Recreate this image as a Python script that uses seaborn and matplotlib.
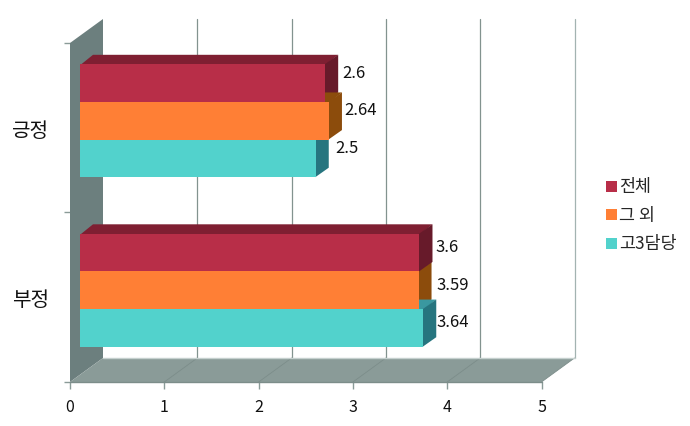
import matplotlib
matplotlib.use("Agg")
import matplotlib.pyplot as plt
from matplotlib.patches import Polygon
from matplotlib.transforms import IdentityTransform, ScaledTranslation
import pandas as pd
import seaborn as sns

# data
categories = ["긍정", "부정"]
groups = ["전체", "그 외", "고3담당"]
all_values = [2.6, 3.6]
other_values = [2.64, 3.59]
senior_values = [2.5, 3.64]
x_ticks = [0, 1, 2, 3, 4, 5]

face_colors = ["#b82e48", "#ff7f35", "#52d2cc"]
top_colors = ["#7f1f32", "#8c4c0c", "#3a98a0"]
side_colors = ["#671a2a", "#8c4c0c", "#26757f"]

WIDTH, HEIGHT = 690, 426
DEPTH_X, DEPTH_Y = 33, 24
BAR_DX, BAR_DY = 10, 7
BAR_DEPTH_X, BAR_DEPTH_Y = 13, 9.5

sns.set_theme(style="white")
plt.rcParams["font.family"] = ["Noto Sans CJK KR", "DejaVu Sans"]

df = pd.DataFrame({
    "category": categories * 3,
    "group": [g for g in groups for _ in categories],
    "value": all_values + other_values + senior_values,
})

fig = plt.figure(figsize=(WIDTH / 100, HEIGHT / 100), dpi=100)


def px_rect(left, top, right, bottom):
    return [left / WIDTH, 1 - bottom / HEIGHT, (right - left) / WIDTH, (bottom - top) / HEIGHT]


# front plane of the 3d box, carries the ticks and walls
ax = fig.add_axes(px_rect(70, 43, 541.5, 382), zorder=1)
ax.set_xlim(0, 5)
ax.set_ylim(1.5, -0.5)
ax.patch.set_visible(False)
for s in ax.spines.values():
    s.set_visible(False)
ax.set_xticks(x_ticks)
ax.set_xticklabels([str(t) for t in x_ticks], fontsize=11.5, color="#111111")
ax.set_yticks([-0.5, 0.5, 1.5])
ax.set_yticklabels([])
ax.set_yticks([0, 1], labels=categories, minor=True)
ax.tick_params(axis="x", which="major", length=5, width=1, color="#8a9b98", pad=7.5, bottom=True)
ax.tick_params(axis="y", which="major", length=4.5, width=1, color="#8a9b98", left=True)
ax.tick_params(axis="y", which="minor", length=0, pad=15, labelsize=14.5, labelcolor="#111111", left=False)
nudge = ScaledTranslation(0, -0.6 / 72, fig.dpi_scale_trans)
for lab in ax.get_yticklabels(minor=True):
    lab.set_transform(lab.get_transform() + nudge)

pts = ax.transData.transform([(0, 1.5), (5, 1.5), (0, -0.5)])
(x0, y0), (x1, _), (_, y_top) = pts


def face(points, color, axes, zorder, edge="none", lw=0):
    axes.add_patch(Polygon(points, closed=True, facecolor=color, edgecolor=edge, linewidth=lw,
                           transform=IdentityTransform(), clip_on=False, zorder=zorder))


# left wall and floor
face([(x0, y0), (x0 + DEPTH_X, y0 + DEPTH_Y), (x0 + DEPTH_X, y_top + DEPTH_Y), (x0, y_top)],
     "#6c7f7e", ax, 1)
face([(x0, y0), (x1, y0), (x1 + DEPTH_X, y0 + DEPTH_Y), (x0 + DEPTH_X, y0 + DEPTH_Y)],
     "#8a9b98", ax, 1)

# grid lines on the back wall and across the floor
for t in x_ticks[1:]:
    gx = ax.transData.transform((t, 1.5))[0]
    line_color = "#a3b3b1" if t == x_ticks[-1] else "#82938f"
    ax.plot([gx + DEPTH_X, gx + DEPTH_X], [y0 + DEPTH_Y, y_top + DEPTH_Y], color=line_color, lw=0.9,
            transform=IdentityTransform(), clip_on=False, zorder=2)
    ax.plot([gx, gx + DEPTH_X], [y0, y0 + DEPTH_Y], color="#7c8d8a", lw=0.6,
            transform=IdentityTransform(), clip_on=False, zorder=2)
ax.plot([x0 + DEPTH_X, x1 + DEPTH_X], [y0 + DEPTH_Y, y0 + DEPTH_Y], color="#c5d0ce", lw=1,
        transform=IdentityTransform(), clip_on=False, zorder=2)
ax.plot([x0, x1], [y0, y0], color="#7c8d8a", lw=1,
        transform=IdentityTransform(), clip_on=False, zorder=3)

# bar plane sits a bit inside the box
bar_ax = fig.add_axes(px_rect(70 + BAR_DX, 43 - BAR_DY, 541.5 + BAR_DX, 382 - BAR_DY), zorder=2)
sns.barplot(data=df, y="category", x="value", hue="group", hue_order=groups, palette=face_colors,
            order=categories, orient="h", width=0.666, saturation=1, linewidth=0, ax=bar_ax)
bar_ax.set_xlim(0, 5)
bar_ax.set_ylim(1.5, -0.5)
bar_ax.axis("off")
bar_ax.patch.set_visible(False)

# side and top faces, shorter bars first so longer ones sit over them
boxes = []
for i, cont in enumerate(bar_ax.containers):
    for bar in cont:
        boxes.append((bar.get_width(), i, bar))
for value, i, bar in sorted(boxes, key=lambda b: b[0]):
    bar.set_zorder(10)
    (l, t), (r, b) = bar_ax.transData.transform(
        [(0, bar.get_y()), (value, bar.get_y() + bar.get_height())])
    # display y goes up, t is the visually upper edge
    face([(l, t - 1), (r, t - 1), (r + BAR_DEPTH_X, t + BAR_DEPTH_Y), (l + BAR_DEPTH_X, t + BAR_DEPTH_Y)],
         top_colors[i], bar_ax, 5)
    # start half a pixel under the front face so no seam shows
    face([(r - 0.5, t), (r + BAR_DEPTH_X, t + BAR_DEPTH_Y), (r + BAR_DEPTH_X, b + BAR_DEPTH_Y), (r - 0.5, b)],
         side_colors[i], bar_ax, 5)

# value labels, nudged per bar like the original
label_shift = [[(17, 10), (15, 10), (20, 10)], [(16, 5), (18, 5), (13, 5)]]
for i, cont in enumerate(bar_ax.containers):
    for j, bar in enumerate(cont):
        dx, dy = label_shift[j][i]
        bar_ax.annotate(f"{bar.get_width():g}", (bar.get_width(), bar.get_y() + bar.get_height() / 2),
                        xytext=(dx * 0.72, dy * 0.72), textcoords="offset points", ha="left",
                        va="center", fontsize=12, color="#111111", zorder=20)

handles, labels = bar_ax.get_legend_handles_labels()
bar_ax.legend_.remove()
fig.legend(handles, labels, loc="upper left", bbox_to_anchor=(603 / WIDTH, 1 - 175 / HEIGHT),
           frameon=False, fontsize=12.5, handlelength=0.58, handleheight=0.58, handletextpad=0.15,
           labelspacing=0.6, borderpad=0.2, borderaxespad=0)

fig.savefig("out.png", dpi=100)
